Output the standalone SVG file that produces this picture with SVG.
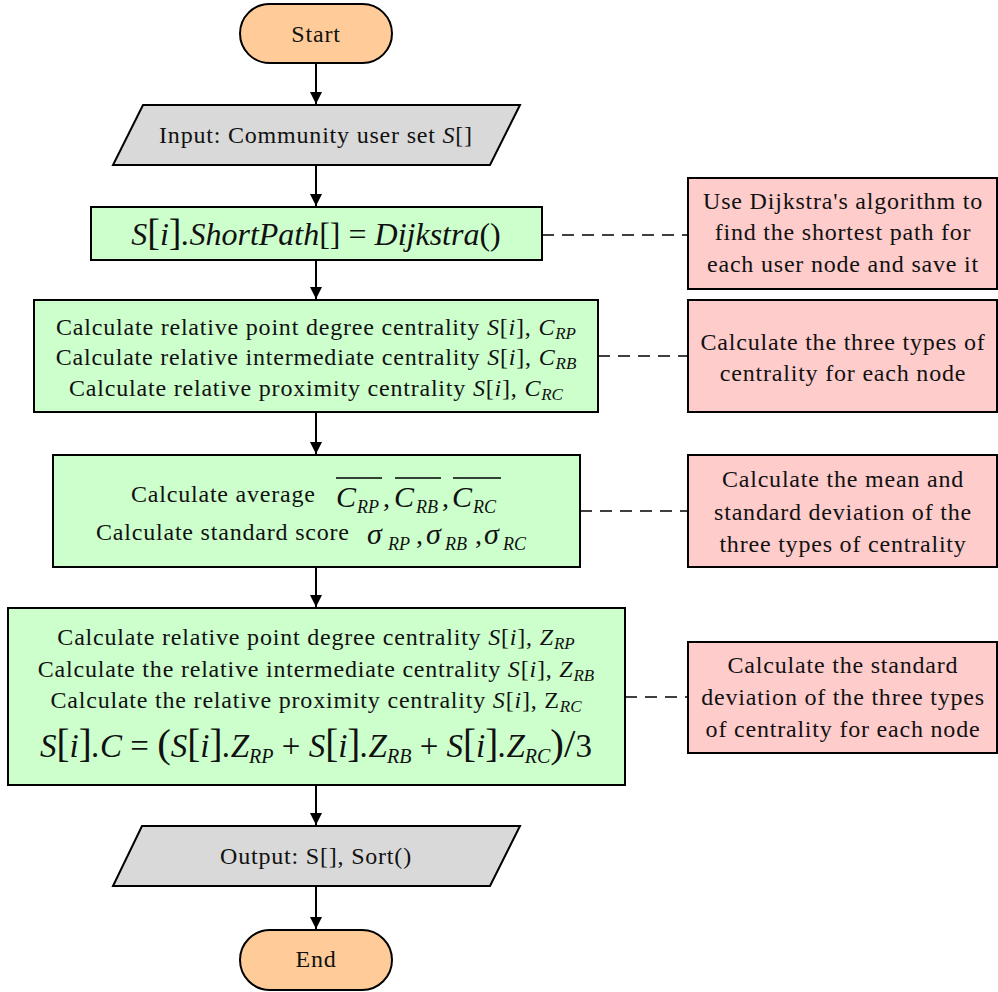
<svg xmlns="http://www.w3.org/2000/svg" width="998" height="992" viewBox="0 0 998 992">
<defs>
<marker id="arr" markerWidth="14" markerHeight="14" refX="12" refY="6" orient="auto" markerUnits="userSpaceOnUse">
<path d="M0,0 L12,6 L0,12 Z" fill="#000"/>
</marker>
<style>
.t{font-family:"Liberation Serif","Times New Roman",serif;font-size:24px;fill:#111;letter-spacing:0.8px;}
.f{font-family:"Liberation Serif","Times New Roman",serif;fill:#111;}
.m{text-anchor:middle;}
.i{font-style:italic;}
.s{font-size:17px;font-style:italic;letter-spacing:0;}
.term{fill:#FFCC99;stroke:#000;stroke-width:2;}
.io{fill:#D9D9D9;stroke:#000;stroke-width:2;}
.proc{fill:#CCFFCC;stroke:#000;stroke-width:2;}
.note{fill:#FFCCCC;stroke:#000;stroke-width:2;}
.flow{stroke:#000;stroke-width:2;fill:none;marker-end:url(#arr);}
.dash{stroke:#000;stroke-width:1.5;fill:none;stroke-dasharray:12,8;}
.ov{stroke:#000;stroke-width:1.5;}
</style>
</defs>
<rect width="998" height="992" fill="#fff"/>
<g id="connectors">
<line class="flow" x1="316" y1="63" x2="316" y2="104"/>
<line class="flow" x1="316" y1="165" x2="316" y2="206"/>
<line class="flow" x1="316" y1="260" x2="316" y2="299"/>
<line class="flow" x1="316" y1="412" x2="316" y2="454"/>
<line class="flow" x1="316" y1="567" x2="316" y2="607"/>
<line class="flow" x1="316" y1="785" x2="316" y2="825"/>
<line class="flow" x1="316" y1="886" x2="316" y2="929"/>
<line class="dash" x1="542" y1="235" x2="688" y2="235"/>
<line class="dash" x1="598" y1="356" x2="688" y2="356"/>
<line class="dash" x1="580" y1="511" x2="688" y2="511"/>
<line class="dash" x1="625" y1="697" x2="688" y2="697"/>
</g>
<g id="start">
<rect class="term" x="240" y="4" width="152" height="59" rx="29.5" ry="29.5"/>
<text class="t m" x="316" y="42">Start</text>
</g>
<g id="input">
<polygon class="io" points="143,105 520,105 490,165 113,165"/>
<text class="t m" x="316" y="143">Input: Community user set <tspan class="i">S</tspan>[]</text>
</g>
<g id="shortpath">
<rect class="proc" x="91" y="207" width="451" height="53"/>
<text class="f m" x="316" y="245" style="font-size:32px"><tspan class="i">S</tspan><tspan style="font-size:38px">[</tspan><tspan class="i">i</tspan><tspan style="font-size:38px">]</tspan><tspan class="i">.ShortPath</tspan>[] = <tspan class="i">Dijkstra</tspan>()</text>
</g>
<g id="centrality">
<rect class="proc" x="34" y="300" width="564" height="112"/>
<text class="t m" x="316" y="335">Calculate relative point degree centrality <tspan class="i">S</tspan>[<tspan class="i">i</tspan>], <tspan class="i">C</tspan><tspan class="s" dy="4">RP</tspan></text>
<text class="t m" x="316" y="365">Calculate relative intermediate centrality <tspan class="i">S</tspan>[<tspan class="i">i</tspan>], <tspan class="i">C</tspan><tspan class="s" dy="4">RB</tspan></text>
<text class="t m" x="316" y="396">Calculate relative proximity centrality <tspan class="i">S</tspan>[<tspan class="i">i</tspan>], <tspan class="i">C</tspan><tspan class="s" dy="4">RC</tspan></text>
</g>
<g id="average">
<rect class="proc" x="53" y="455" width="527" height="112"/>
<text class="t" x="131" y="502">Calculate average</text>
<text class="f i" x="336" y="507" style="font-size:30px">C</text>
<text class="f i" x="357" y="513" style="font-size:18px">RP</text>
<text class="f" x="383" y="507" style="font-size:28px">,</text>
<text class="f i" x="394" y="507" style="font-size:30px">C</text>
<text class="f i" x="416" y="513" style="font-size:18px">RB</text>
<text class="f" x="442" y="507" style="font-size:28px">,</text>
<text class="f i" x="452" y="507" style="font-size:30px">C</text>
<text class="f i" x="473" y="513" style="font-size:18px">RC</text>
<line class="ov" x1="336" y1="478" x2="382" y2="478"/>
<line class="ov" x1="395" y1="478" x2="441" y2="478"/>
<line class="ov" x1="453" y1="478" x2="501" y2="478"/>
<text class="t" x="96" y="540">Calculate standard score</text>
<text class="f i" x="367" y="544" style="font-size:30px">σ</text>
<text class="f i" x="388" y="550" style="font-size:18px">RP</text>
<text class="f" x="416" y="544" style="font-size:28px">,</text>
<text class="f i" x="426" y="544" style="font-size:30px">σ</text>
<text class="f i" x="445" y="550" style="font-size:18px">RB</text>
<text class="f" x="475" y="544" style="font-size:28px">,</text>
<text class="f i" x="484" y="544" style="font-size:30px">σ</text>
<text class="f i" x="503" y="550" style="font-size:18px">RC</text>
</g>
<g id="standard">
<rect class="proc" x="8" y="608" width="617" height="177"/>
<text class="t m" x="316" y="645">Calculate relative point degree centrality <tspan class="i">S</tspan>[<tspan class="i">i</tspan>], <tspan class="i">Z</tspan><tspan class="s" dy="4">RP</tspan></text>
<text class="t m" x="316" y="677">Calculate the relative intermediate centrality <tspan class="i">S</tspan>[<tspan class="i">i</tspan>], <tspan class="i">Z</tspan><tspan class="s" dy="4">RB</tspan></text>
<text class="t m" x="316" y="708">Calculate the relative proximity centrality <tspan class="i">S</tspan>[<tspan class="i">i</tspan>], Z<tspan class="s" dy="4">RC</tspan></text>
<text class="f m" x="316" y="757" style="font-size:33px"><tspan class="i">S</tspan><tspan style="font-size:39px">[</tspan><tspan class="i">i</tspan><tspan style="font-size:39px">]</tspan><tspan class="i">.C</tspan> = <tspan style="font-size:41px">(</tspan><tspan class="i">S</tspan><tspan style="font-size:39px">[</tspan><tspan class="i">i</tspan><tspan style="font-size:39px">]</tspan><tspan class="i">.Z</tspan><tspan class="i" style="font-size:20px" dy="6">RP</tspan><tspan dy="-6"> + </tspan><tspan class="i">S</tspan><tspan style="font-size:39px">[</tspan><tspan class="i">i</tspan><tspan style="font-size:39px">]</tspan><tspan class="i">.Z</tspan><tspan class="i" style="font-size:20px" dy="6">RB</tspan><tspan dy="-6"> + </tspan><tspan class="i">S</tspan><tspan style="font-size:39px">[</tspan><tspan class="i">i</tspan><tspan style="font-size:39px">]</tspan><tspan class="i">.Z</tspan><tspan class="i" style="font-size:20px" dy="6">RC</tspan><tspan dy="-6" style="font-size:41px">)</tspan><tspan style="font-size:41px">/</tspan>3</text>
</g>
<g id="output">
<polygon class="io" points="142,826 520,826 490,886 113,886"/>
<text class="t m" x="316" y="864">Output: S[], Sort()</text>
</g>
<g id="end">
<rect class="term" x="240" y="930" width="152" height="60" rx="30" ry="30"/>
<text class="t m" x="316" y="967">End</text>
</g>
<g id="note1">
<rect class="note" x="688" y="178" width="309" height="111"/>
<text class="t m" x="843" y="209">Use Dijkstra's algorithm to</text>
<text class="t m" x="843" y="240">find the shortest path for</text>
<text class="t m" x="843" y="272">each user node and save it</text>
</g>
<g id="note2">
<rect class="note" x="688" y="300" width="309" height="112"/>
<text class="t m" x="843" y="350">Calculate the three types of</text>
<text class="t m" x="843" y="381">centrality for each node</text>
</g>
<g id="note3">
<rect class="note" x="688" y="455" width="309" height="112"/>
<text class="t m" x="843" y="487">Calculate the mean and</text>
<text class="t m" x="843" y="520">standard deviation of the</text>
<text class="t m" x="843" y="552">three types of centrality</text>
</g>
<g id="note4">
<rect class="note" x="688" y="642" width="309" height="111"/>
<text class="t m" x="843" y="673">Calculate the standard</text>
<text class="t m" x="843" y="705">deviation of the three types</text>
<text class="t m" x="843" y="737">of centrality for each node</text>
</g>
</svg>
